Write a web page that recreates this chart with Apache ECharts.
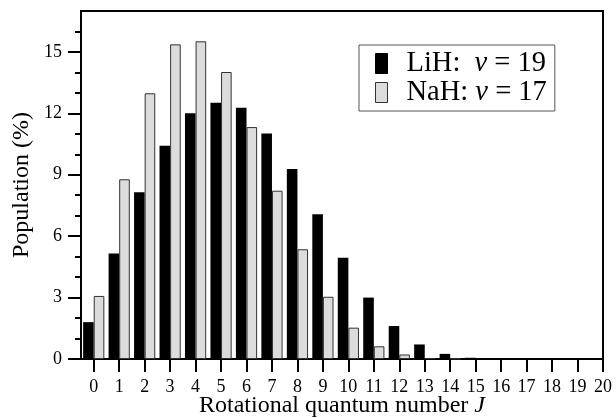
<!DOCTYPE html>
<html><head><meta charset="utf-8">
<script src="https://cdn.jsdelivr.net/npm/echarts@6/dist/echarts.min.js"></script>
<style>html,body{margin:0;padding:0;background:#fff}#c{width:616px;height:418px}</style>
</head><body><div id="c"></div>
<script>
const J = [0, 1, 2, 3, 4, 5, 6, 7, 8, 9, 10, 11, 12, 13, 14, 15];
const lih = [1.8, 5.15, 8.15, 10.42, 12.0, 12.52, 12.27, 11.02, 9.28, 7.07, 4.95, 3.0, 1.61, 0.71, 0.25, 0.06];
const nah = [3.08, 8.78, 12.98, 15.37, 15.52, 14.02, 11.33, 8.22, 5.36, 3.04, 1.53, 0.62, 0.22, 0.05, 0.02, 0];
const seriesNames = ['LiH', 'NaH'];
const legendLabels = ['LiH:  {i|v} = 19', 'NaH: {i|v} = 17'];
const xTickValues = [0, 1, 2, 3, 4, 5, 6, 7, 8, 9, 10, 11, 12, 13, 14, 15, 16, 17, 18, 19, 20];
const yTickValues = [0, 3, 6, 9, 12, 15];
const yMinorValues = [1, 2, 4, 5, 7, 8, 10, 11, 13, 14, 16];

const font = '"Liberation Serif","Times New Roman",serif';
const chart = echarts.init(document.getElementById('c'), null, {renderer: 'canvas'});
chart.setOption({
  animation: false,
  grid: {left: 81, right: 13, top: 11, bottom: 59, outerBoundsMode: 'none', containLabel: false,
    show: true, borderColor: '#000', borderWidth: 2, backgroundColor: 'transparent'},
  legend: {
    orient: 'vertical', left: 359, top: 45, padding: [4, 8, 4, 16],
    itemWidth: 12, itemHeight: 20, itemGap: 0,
    borderColor: '#555', borderWidth: 1, icon: 'rect', selectedMode: false,
    data: [
      {name: 'LiH', itemStyle: {color: '#000', borderColor: '#000', borderWidth: 1}},
      {name: 'NaH', itemStyle: {color: '#dcdcdc', borderColor: '#333', borderWidth: 1}}
    ],
    textStyle: {fontFamily: font, fontSize: 28.5, lineHeight: 28, color: '#000', padding: [0, 0, 0, 14],
      rich: {i: {fontStyle: 'italic', fontFamily: font, fontSize: 28.5, lineHeight: 28, color: '#000'}}},
    formatter: function (name) { return legendLabels[seriesNames.indexOf(name)]; }
  },
  xAxis: {
    type: 'value', min: -0.5, max: 20,
    axisLine: {show: true, onZero: false, lineStyle: {color: '#000', width: 2}},
    axisTick: {show: true, inside: false, customValues: xTickValues, length: 13, lineStyle: {color: '#000', width: 2}},
    axisLabel: {customValues: xTickValues, margin: 19, fontFamily: font, fontSize: 18, color: '#000'},
    splitLine: {show: false},
    name: 'Rotational quantum number {i|J}', nameLocation: 'middle', nameGap: 35, nameMoveOverlap: false,
    nameTextStyle: {fontFamily: font, fontSize: 24, color: '#000',
      rich: {i: {fontStyle: 'italic', fontFamily: font, fontSize: 24, color: '#000'}}}
  },
  yAxis: [{
    type: 'value', min: 0, max: 17, position: 'left',
    axisLine: {show: true, onZero: false, lineStyle: {color: '#000', width: 2}},
    axisTick: {show: true, inside: false, customValues: yTickValues, length: 13, lineStyle: {color: '#000', width: 2}},
    axisLabel: {customValues: yTickValues, margin: 19, fontFamily: font, fontSize: 18, color: '#000'},
    splitLine: {show: false},
    name: 'Population (%)', nameLocation: 'middle', nameGap: 47, nameRotate: 90, nameMoveOverlap: false,
    nameTextStyle: {fontFamily: font, fontSize: 24, color: '#000'}
  }, {
    type: 'value', min: 0, max: 17, position: 'left', offset: 0,
    axisLine: {show: false, onZero: false},
    axisTick: {show: true, inside: false, customValues: yMinorValues, length: 6, lineStyle: {color: '#000', width: 2}},
    axisLabel: {show: false}, splitLine: {show: false}
  }],
  series: [{
    name: 'LiH', type: 'bar', yAxisIndex: 0, barWidth: 10.6, barGap: '0%',
    data: J.map((j, i) => [j, lih[i]]),
    itemStyle: {color: '#000', borderColor: '#000', borderWidth: 0}
  }, {
    name: 'NaH', type: 'bar', yAxisIndex: 0, barWidth: 10.6, barGap: '0%',
    data: J.map((j, i) => [j, nah[i]]).filter(d => d[1] > 0),
    itemStyle: {color: '#dcdcdc', borderColor: '#333', borderWidth: 1}
  }]
});
</script></body></html>
